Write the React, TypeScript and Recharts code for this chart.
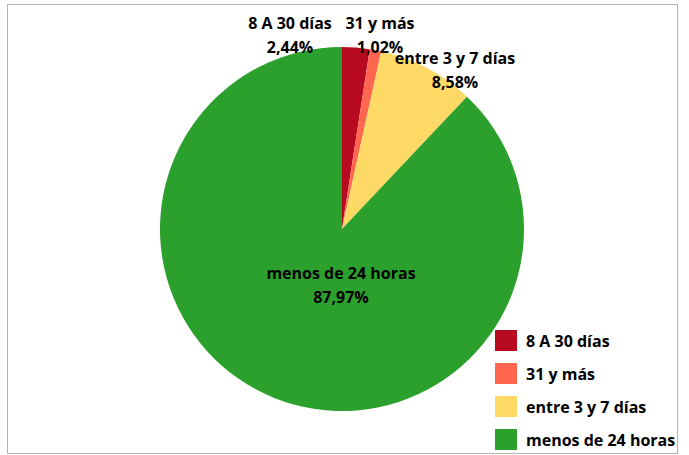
import React from 'react';
import { PieChart, Pie, Cell, Legend } from 'recharts';

const CATEGORIES = ['8 A 30 días', '31 y más', 'entre 3 y 7 días', 'menos de 24 horas'];
const VALUES = [2.44, 1.02, 8.58, 87.97];
const PCT_LABELS = ['2,44%', '1,02%', '8,58%', '87,97%'];
const COLORS = ['#B70A21', '#FF6650', '#FFD966', '#2CA02C'];

// label anchor offsets from pie centre (text centre of first line)
const LABEL_OFFSETS = [
  { dx: -52, dy: -206 },
  { dx: 38, dy: -206 },
  { dx: 113, dy: -171 },
  { dx: -1, dy: 44 },
];

const FONT = '"Open Sans", "Noto Sans", sans-serif';

const data = CATEGORIES.map((name, i) => ({ name, value: VALUES[i], label: PCT_LABELS[i] }));

const renderLabel = (props: any) => {
  const { cx, cy, index } = props;
  const off = LABEL_OFFSETS[index];
  const x = cx + off.dx;
  const y = cy + off.dy;
  return (
    <text
      x={x}
      y={y}
      textAnchor="middle"
      fill="#000"
      fontFamily={FONT}
      fontWeight="bold"
      fontSize={16}
    >
      <tspan x={x} dy="0.35em">{CATEGORIES[index]}</tspan>
      <tspan x={x} dy={24}>{PCT_LABELS[index]}</tspan>
    </text>
  );
};

const renderLegend = () => (
  <div style={{ fontFamily: FONT, fontWeight: 'bold', fontSize: 16, color: '#000' }}>
    {CATEGORIES.map((c, i) => (
      <div key={c} style={{ display: 'flex', alignItems: 'center', height: 33 }}>
        <div style={{ width: 22, height: 21, background: COLORS[i], marginRight: 9 }} />
        <span style={{ whiteSpace: 'nowrap' }}>{c}</span>
      </div>
    ))}
  </div>
);

export default function App() {
  return (
    <div style={{ position: 'absolute', left: 0, top: 0, width: 689, height: 455, background: '#fff' }}>
      <div
        style={{
          position: 'absolute',
          left: 7,
          top: 4,
          width: 671,
          height: 450,
          border: '1.5px solid #B4B4B4',
          boxSizing: 'border-box',
        }}
      />
      <div style={{ position: 'absolute', left: 0, top: 0 }}>
        <PieChart width={689} height={455} margin={{ top: 0, right: 0, bottom: 0, left: 0 }}>
          <Pie
            data={data}
            dataKey="value"
            nameKey="name"
            cx={342}
            cy={229}
            outerRadius={182}
            startAngle={90}
            endAngle={-270}
            stroke="none"
            label={renderLabel}
            labelLine={false}
            isAnimationActive={false}
          >
            {data.map((d, i) => (
              <Cell key={d.name} fill={COLORS[i]} />
            ))}
          </Pie>
          <Legend
            layout="vertical"
            align="right"
            verticalAlign="bottom"
            content={renderLegend}
            wrapperStyle={{ position: 'absolute', left: 495, top: 324, width: 190 }}
          />
        </PieChart>
      </div>
    </div>
  );
}
